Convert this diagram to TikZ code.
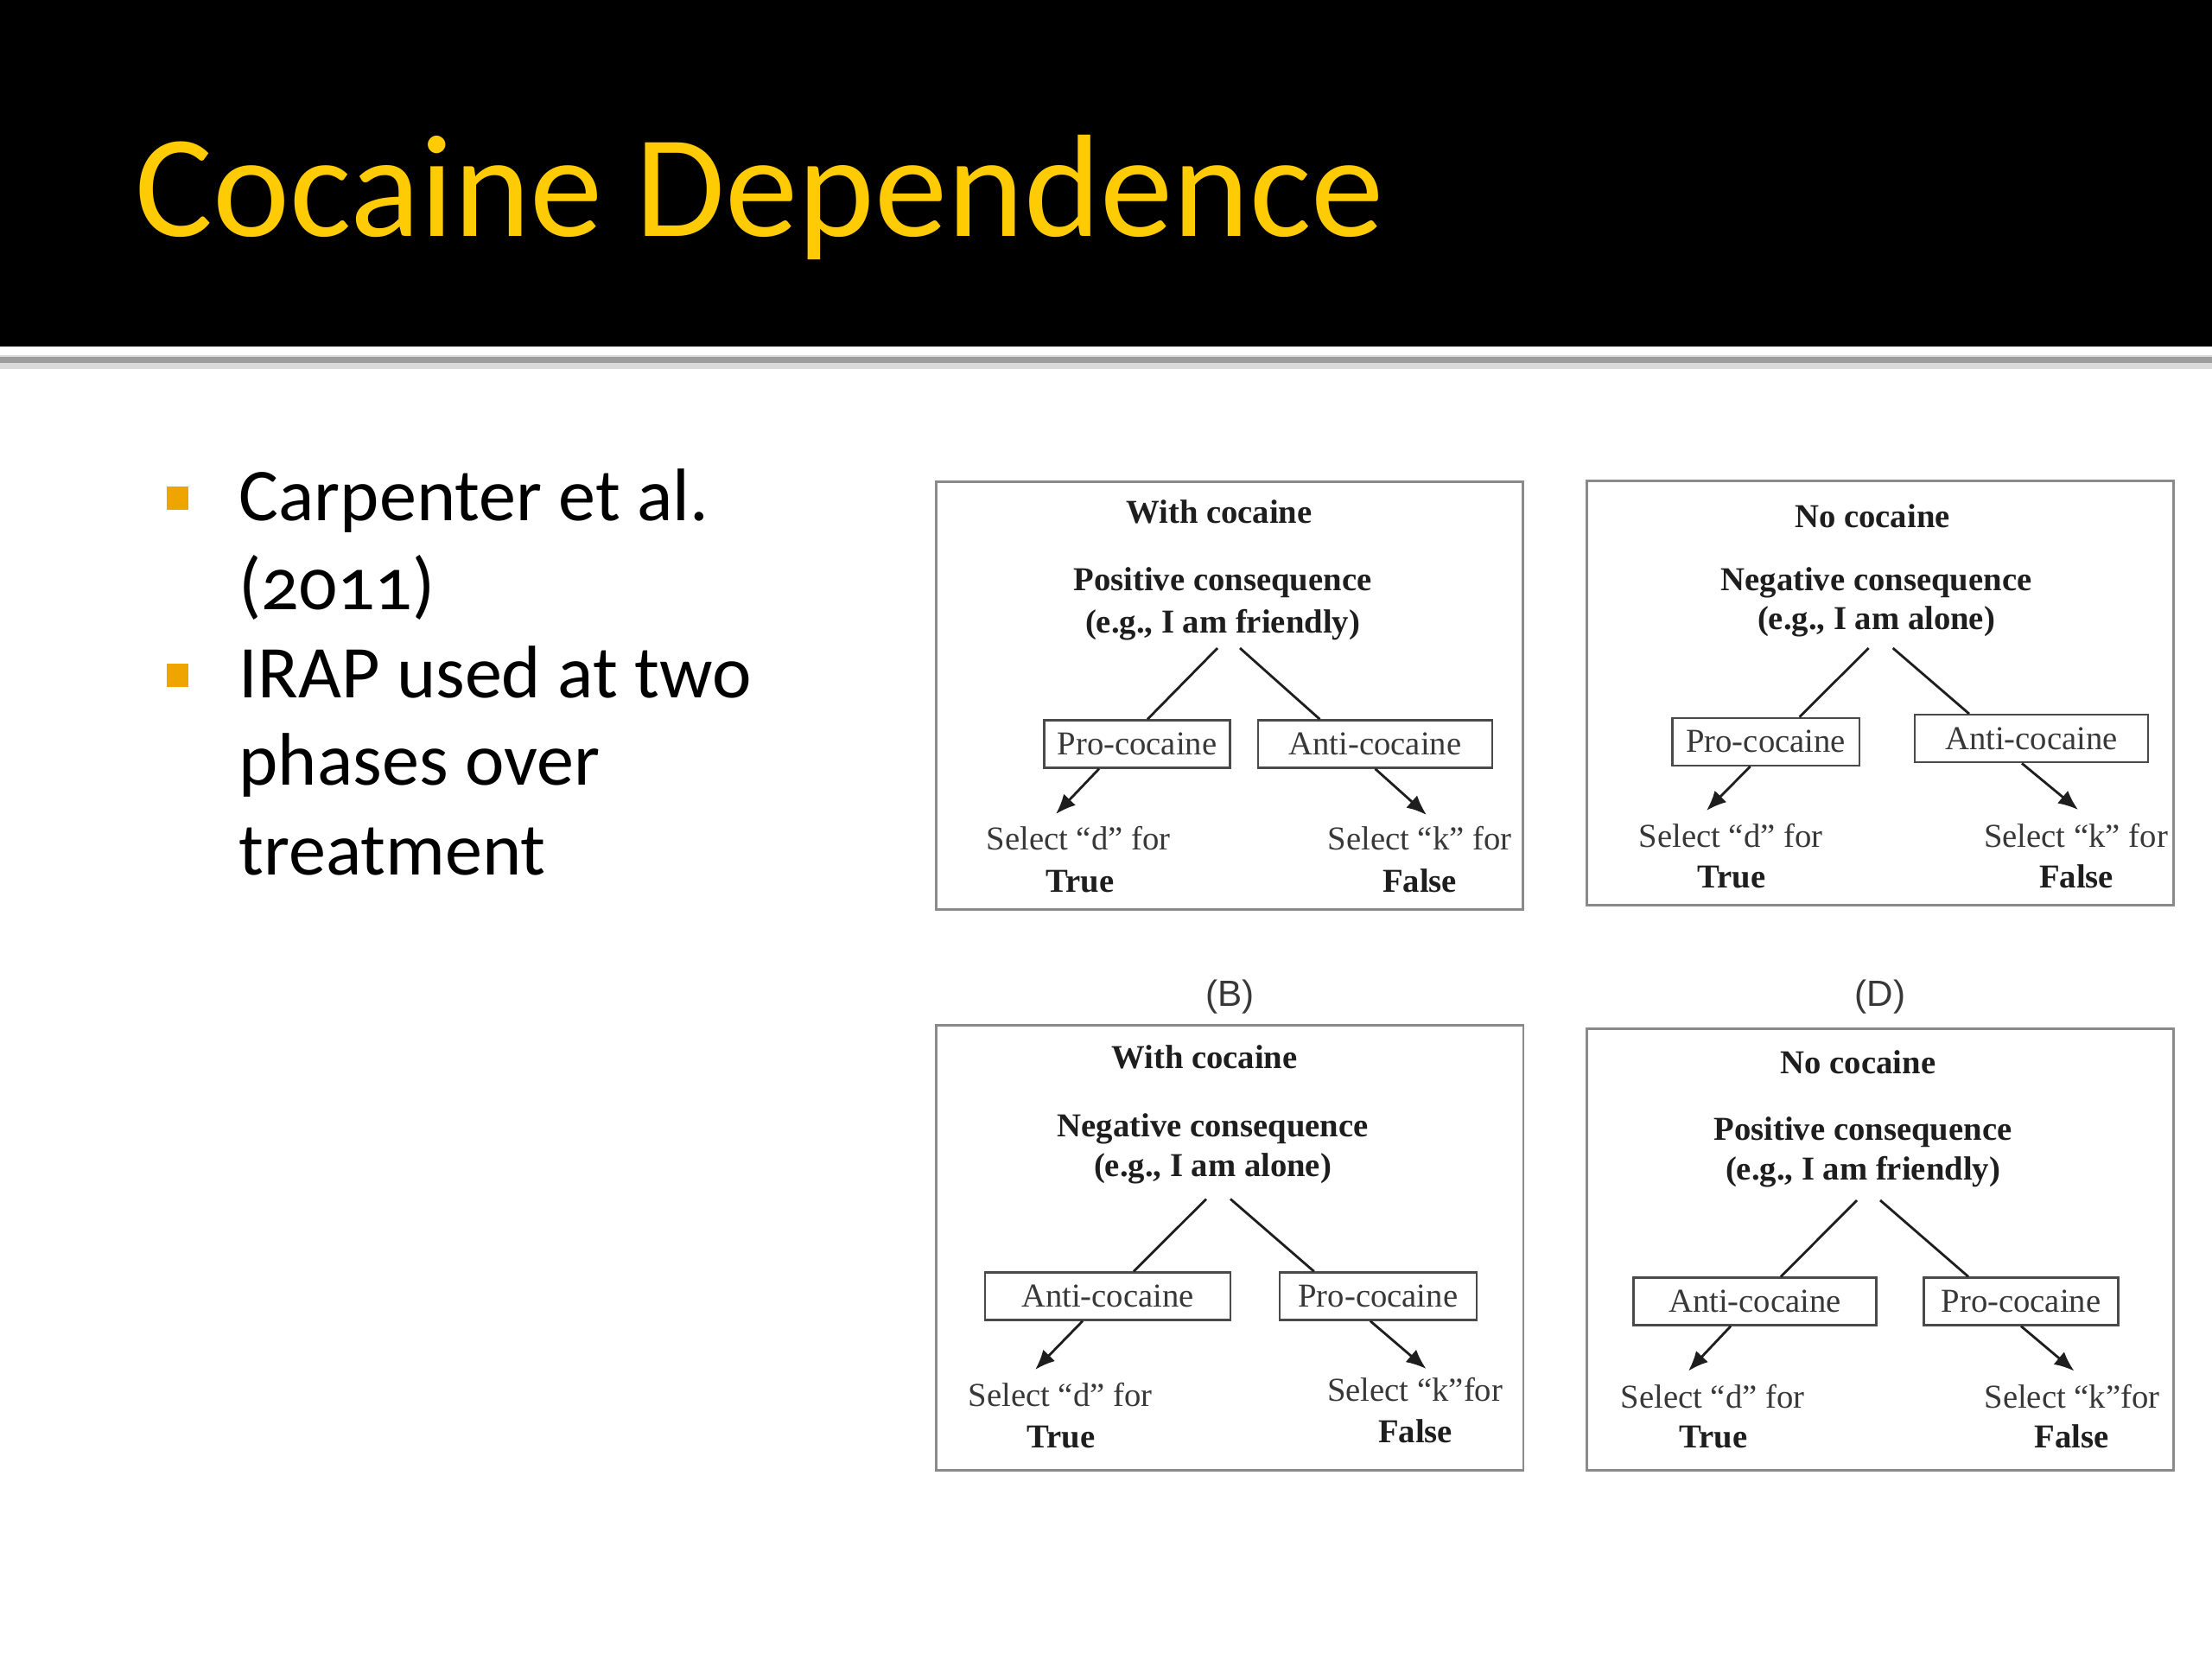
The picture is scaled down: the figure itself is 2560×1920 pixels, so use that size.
\documentclass[tikz,border=0pt]{standalone}
\usepackage{xcolor}
\usepackage{fontspec}
\setmainfont{Carlito}
\newfontfamily\panelfont{Liberation Serif}
\newfontfamily\labfont{Liberation Sans}
\usepackage{tikz}
\usetikzlibrary{arrows.meta,positioning}
\definecolor{TitleGold}{HTML}{FFCB05}
\definecolor{Bullet}{HTML}{EFA500}
\definecolor{Rule}{HTML}{9C9C9C}
\definecolor{RuleSoft}{HTML}{DADADA}
\definecolor{Frame}{HTML}{8A8A8A}
\definecolor{Ink}{HTML}{1E1E1E}
\definecolor{Txt}{HTML}{383838}
\definecolor{BoxLine}{HTML}{4A4A4A}

\begin{document}
\begin{tikzpicture}[
    x=0.01cm, y=-0.01cm,
    panel/.style={draw=Frame,line width=0.8pt,inner sep=0},
    head/.style={font=\panelfont\fontsize{11}{13}\selectfont\bfseries,text=Ink,anchor=base,inner sep=0},
    cbox/.style={draw=BoxLine,line width=0.65pt,font=\panelfont\fontsize{11}{13}\selectfont,text=Txt,minimum height=0.55cm,inner sep=0},
    sel/.style={font=\panelfont\fontsize{11}{13}\selectfont,text=Txt,anchor=base,inner sep=0},
    selb/.style={sel,font=\panelfont\fontsize{11}{13}\selectfont\bfseries,text=Ink},
    link/.style={draw=Ink,line width=0.8pt},
    arrow/.style={link,-{Latex[length=2.3mm,width=1.9mm]}},
    lab/.style={font=\labfont\fontsize{12}{14}\selectfont,text=Txt,inner sep=0},
    bullet/.style={fill=Bullet,minimum width=0.25cm,minimum height=0.27cm,inner sep=0},
    btext/.style={font=\fontsize{24.5}{29}\selectfont,anchor=base west,inner sep=0}
]
\useasboundingbox (0,0) rectangle (2560,1920);
\fill[white] (0,0) rectangle (2560,1920);
\fill[black] (0,0) rectangle (2560,401);
\fill[RuleSoft] (0,411) rectangle (2560,427);
\fill[Rule] (0,413) rectangle (2560,420);
\node[font=\fontsize{48}{58}\selectfont,text=TitleGold,anchor=base west,inner sep=0] (title) at (156,273) {Cocaine Dependence};

\node[bullet] (sq1) at (205.5,576.5) {};
\node[bullet] (sq2) at (205.5,781.5) {};
\node[btext] (b1) at (276,602) {Carpenter et al.};
\node[btext] (b1x) at (276,705) {\addfontfeatures{Numbers=OldStyle}(2011)};
\node[btext] (b2) at (276,807) {IRAP used at two};
\node[btext] (b2x) at (276,908) {phases over};
\node[btext] (b2y) at (276,1012) {treatment};

% with cocaine, positive
\node[panel,minimum width=6.78cm,minimum height=4.95cm] (boxA) at (1423,805) {};
\node[head] (wA) at (1411,605) {With cocaine};
\node[head] (cA) at (1415,683) {Positive consequence};
\node[head] (eA) at (1415,732) {(e.g., I am friendly)};
\coordinate (fA1) at (1409,750);
\coordinate (fA2) at (1435,750);
\node[cbox,minimum width=2.15cm] (pA) at (1316,861) {Pro-cocaine};
\node[cbox,minimum width=2.71cm] (nA) at (1591.5,861) {Anti-cocaine};
\coordinate (tA1) at (1222,942);
\coordinate (tA2) at (1651,943);
\node[sel] (sA1) at (1248,983) {Select “d” for};
\node[selb] (rA1) at (1250,1032) {True};
\node[sel] (sA2) at (1643,983) {Select “k” for};
\node[selb] (rA2) at (1643,1032) {False};
\draw[link] (fA1) -- ([xshift=0.12cm]pA.north);
\draw[link] (fA2) -- ([xshift=-0.64cm]nA.north);
\draw[arrow] ([xshift=-0.44cm]pA.south) -- (tA1);
\draw[arrow] (nA.south) -- (tA2);

% no cocaine, negative
\node[panel,minimum width=6.78cm,minimum height=4.91cm] (boxC) at (2176,802) {};
\node[head] (wC) at (2167,610) {No cocaine};
\node[head] (cC) at (2171.5,683) {Negative consequence};
\node[head] (eC) at (2171.5,728) {(e.g., I am alone)};
\coordinate (fC1) at (2162.6,750);
\coordinate (fC2) at (2190.7,750);
\node[cbox,minimum width=2.16cm] (pC) at (2043.6,858.3) {Pro-cocaine};
\node[cbox,minimum width=2.70cm] (nC) at (2351,854.7) {Anti-cocaine};
\coordinate (tC1) at (1975,938);
\coordinate (tC2) at (2405,937);
\node[sel] (sC1) at (2003,980) {Select “d” for};
\node[selb] (rC1) at (2004,1027) {True};
\node[sel] (sC2) at (2402.5,980) {Select “k” for};
\node[selb] (rC2) at (2403,1027) {False};
\draw[link] (fC1) -- ([xshift=0.39cm]pC.north);
\draw[link] (fC2) -- ([xshift=-0.72cm]nC.north);
\draw[arrow] ([xshift=-0.18cm]pC.south) -- (tC1);
\draw[arrow] ([xshift=-0.11cm]nC.south) -- (tC2);

% with cocaine, negative
\node[panel,minimum width=6.79cm,minimum height=5.15cm] (boxB) at (1423.3,1444) {};
\node[lab,above=0.11cm of boxB] (labB) {(B)};
\node[head] (wB) at (1394,1236) {With cocaine};
\node[head] (cB) at (1403.7,1315) {Negative consequence};
\node[head] (eB) at (1403.5,1361) {(e.g., I am alone)};
\coordinate (fB1) at (1396,1387.5);
\coordinate (fB2) at (1424,1387.5);
\node[cbox,minimum width=2.84cm] (nB) at (1282,1500) {Anti-cocaine};
\node[cbox,minimum width=2.28cm] (pB) at (1594.8,1500) {Pro-cocaine};
\coordinate (tB1) at (1198,1585);
\coordinate (tB2) at (1650.5,1584);
\node[sel] (sB1) at (1227,1627) {Select “d” for};
\node[selb] (rB1) at (1228,1675) {True};
\node[sel] (sB2) at (1637.6,1621) {Select “k”for};
\node[selb] (rB2) at (1638,1669) {False};
\draw[link] (fB1) -- ([xshift=0.30cm]nB.north);
\draw[link] (fB2) -- ([xshift=-0.74cm]pB.north);
\draw[arrow] ([xshift=-0.29cm]nB.south) -- (tB1);
\draw[arrow] ([xshift=-0.09cm]pB.south) -- (tB2);

% no cocaine, positive
\node[panel,minimum width=6.78cm,minimum height=5.10cm] (boxD) at (2176,1446) {};
\node[lab,above=0.16cm of boxD] (labD) {(D)};
\node[head] (wD) at (2150.5,1242) {No cocaine};
\node[head] (cD) at (2156,1319) {Positive consequence};
\node[head] (eD) at (2156,1365) {(e.g., I am friendly)};
\coordinate (fD1) at (2149,1389);
\coordinate (fD2) at (2176,1389);
\node[cbox,minimum width=2.81cm] (nD) at (2031,1506) {Anti-cocaine};
\node[cbox,minimum width=2.25cm] (pD) at (2339,1506) {Pro-cocaine};
\coordinate (tD1) at (1954,1586.5);
\coordinate (tD2) at (2400.5,1586.5);
\node[sel] (sD1) at (1982,1629) {Select “d” for};
\node[selb] (rD1) at (1983,1675) {True};
\node[sel] (sD2) at (2398,1629) {Select “k”for};
\node[selb] (rD2) at (2397.5,1675) {False};
\draw[link] (fD1) -- ([xshift=0.30cm]nD.north);
\draw[link] (fD2) -- ([xshift=-0.61cm]pD.north);
\draw[arrow] ([xshift=-0.28cm]nD.south) -- (tD1);
\draw[arrow] (pD.south) -- (tD2);
\end{tikzpicture}
\end{document}
